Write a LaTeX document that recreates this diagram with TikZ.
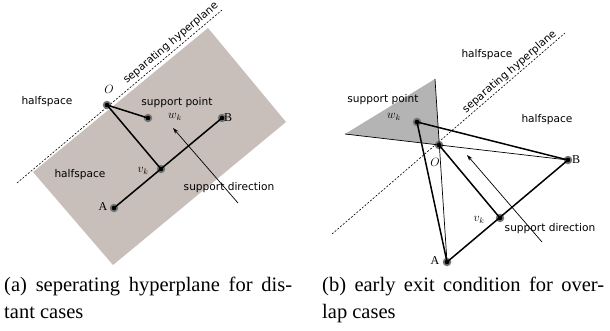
\documentclass[tikz,border=0pt]{standalone}
\usepackage{fontspec}
\setmainfont{Liberation Serif}
\newfontfamily\labfont{DejaVu Sans}
\usetikzlibrary{arrows.meta}
\definecolor{shadeA}{RGB}{200,191,186}
\definecolor{shadeB}{RGB}{180,180,180}
\begin{document}
\begin{tikzpicture}[x=1pt,y=-1pt,
  lab/.style={font=\labfont\fontsize{10.6}{12}\selectfont, inner sep=0},
  mlab/.style={font=\fontsize{12}{14}\selectfont, inner sep=0},
  thickline/.style={line width=1.5pt, line cap=round},
  thinline/.style={line width=0.7pt},
  hyper/.style={line width=0.6pt, dash pattern=on 2pt off 1.6pt},
  dotnode/.style={circle, inner sep=0, minimum size=8.5pt, fill=black!55},
  captext/.style={font=\fontsize{20.5}{24}\selectfont, anchor=base west, inner sep=0},
  arr/.style={line width=0.7pt, -{Stealth[length=6pt,width=4pt]}}
]
\useasboundingbox (0,0) rectangle (610,330);

% ---------- left panel ----------
\fill[shadeA] (208,28) -- (286,122) -- (113,265) -- (33,172) -- cycle;
\coordinate (h1a) at (17,183);
\coordinate (h1b) at (222,10);
\draw[hyper] (h1a) -- (h1b);

\node[dotnode] (O1) at (107,105) {};
\node[dotnode] (W1) at (148,118) {};
\node[dotnode] (B1) at (222,118) {};
\node[dotnode] (V1) at (161,169) {};
\node[dotnode] (A1) at (114,208) {};

\draw[thickline] (O1.center) -- (W1.center);
\draw[thickline] (O1.center) -- (V1.center);
\draw[thickline] (A1.center) -- (B1.center);
\foreach \p in {O1,W1,B1,V1,A1} \fill[black] (\p) circle (2.3pt);

\node[mlab] (lO1) at (109,89) {$O$};
\node[mlab] (lW1) at (175,117) {$w_k$};
\node[mlab, anchor=west] (lB1) at (224,118) {$\mathrm{B}$};
\node[mlab] (lV1) at (143,171) {$v_k$};
\node[mlab] (lA1) at (103,207) {$\mathrm{A}$};

\node[lab] (sp1) at (177,103) {support point};
\node[lab] (hs1) at (47,102) {halfspace};
\node[lab] (hs2) at (80,175) {halfspace};
\node[lab] (sd1) at (229,188) {support direction};
\node[lab, rotate=40.2, anchor=south, inner sep=2.5pt] (hp1) at (176,49) {separating hyperplane};

\coordinate (sa1) at (238,203);
\coordinate (sa2) at (173,128);
\draw[arr] (sa1) -- (sa2);

% ---------- right panel ----------
\coordinate (T1) at (435,79);
\coordinate (T2) at (345,134);
\fill[shadeB] (T1) -- (T2) -- (439.3,145) -- cycle;
\coordinate (h2a) at (332,234);
\coordinate (h2b) at (565,33);
\draw[hyper] (h2a) -- (h2b);

\node[dotnode] (W2) at (417,122) {};
\node[dotnode] (O2) at (439,145) {};
\node[dotnode] (B2) at (568,160) {};
\node[dotnode] (V2) at (500,218) {};
\node[dotnode] (A2) at (447,262) {};

\draw[thinline] (T2) -- (B2.center);
\draw[thinline] (T1) -- (A2.center);
\draw[thickline] (W2.center) -- (B2.center);
\draw[thickline] (W2.center) -- (A2.center);
\draw[thickline] (O2.center) -- (V2.center);
\draw[thickline] (A2.center) -- (B2.center);
\foreach \p in {W2,O2,B2,V2,A2} \fill[black] (\p) circle (2.3pt);

\node[mlab] (lO2) at (435,162) {$O$};
\node[mlab] (lW2) at (394,117) {$w_k$};
\node[mlab, anchor=west] (lB2) at (572,160) {$\mathrm{B}$};
\node[mlab] (lV2) at (479,220) {$v_k$};
\node[mlab] (lA2) at (435,261) {$\mathrm{A}$};

\node[lab] (sp2) at (383,100) {support point};
\node[lab] (hs3) at (487,55) {halfspace};
\node[lab] (hs4) at (547,120) {halfspace};
\node[lab] (sd2) at (550,229) {support direction};
\node[lab, rotate=40.8, anchor=south, inner sep=1.5pt] (hp2) at (514,77) {separating hyperplane};

\coordinate (sb1) at (542,242);
\coordinate (sb2) at (467,155);
\draw[arr] (sb1) -- (sb2);

% ---------- captions ----------
\node[captext] (c1) at (4,291) {\makebox[288pt][s]{(a) seperating hyperplane for dis-}};
\node[captext] (c2) at (4,318) {tant cases};
\node[captext] (c3) at (322,291) {\makebox[282pt][s]{(b) early exit condition for over-}};
\node[captext] (c4) at (322,318) {lap cases};
\end{tikzpicture}
\end{document}
